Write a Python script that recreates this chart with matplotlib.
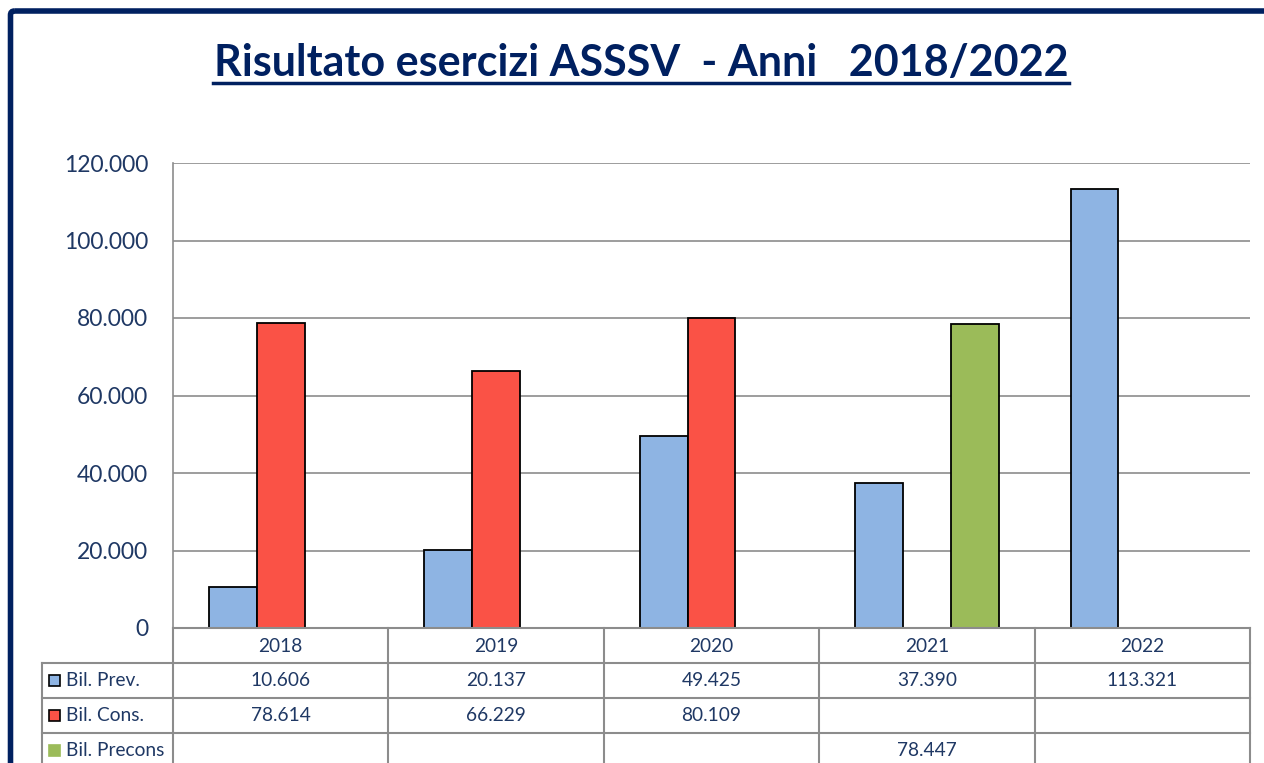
import numpy as np
import matplotlib
matplotlib.use("Agg")
import matplotlib.pyplot as plt
from matplotlib.patches import FancyBboxPatch, Rectangle

# dati
anni = ["2018", "2019", "2020", "2021", "2022"]
serie = ["Bil. Prev.", "Bil. Cons.", "Bil. Precons"]
bil_prev = [10606, 20137, 49425, 37390, 113321]
bil_cons = [78614, 66229, 80109, np.nan, np.nan]
bil_precons = [np.nan, np.nan, np.nan, 78447, np.nan]
colori = ["#8EB4E3", "#FA5246", "#9BBB59"]
yticks = [0, 20000, 40000, 60000, 80000, 100000, 120000]

NAVY = "#002060"
TXT = "#1F3864"
GRID = "#8C8C8C"
plt.rcParams["font.family"] = ["Lato", "DejaVu Sans"]

W, H = 1264, 763
fig = plt.figure(figsize=(W / 100, H / 100), dpi=100)

def fx(x): return x / W
def fy(y): return 1 - y / H

# area del grafico (pixel)
L, R, T, B = 173, 1250, 163, 628
ax = fig.add_axes([fx(L), fy(B), fx(R - L), (B - T) / H])

x = np.arange(len(anni))
bw = 0.222
valori = [bil_prev, bil_cons, bil_precons]
for i, v in enumerate(valori):
    ax.bar(x + (i - 1) * bw, v, bw, color=colori[i], edgecolor="black", linewidth=1.3, zorder=3)

ax.set_xlim(-0.5, len(anni) - 0.5)
ax.set_ylim(0, 120000)
ax.set_yticks(yticks)
ax.set_yticklabels([f"{t:,.0f}".replace(",", ".") for t in yticks], fontsize=16.5, color=TXT)
ax.tick_params(axis="y", length=0, pad=18)
ax.set_xticks([])
ax.yaxis.grid(True, color=GRID, linewidth=1.2, zorder=0)
for s in ["right", "bottom", "top"]:
    ax.spines[s].set_visible(False)
ax.spines["left"].set_color(GRID)
ax.spines["left"].set_linewidth(1.2)

# overlay in pixel per tabella, titolo e bordo
ov = fig.add_axes([0, 0, 1, 1], zorder=5)
ov.set_xlim(0, W)
ov.set_ylim(H, 0)
ov.axis("off")
ov.patch.set_alpha(0)

# bordo
ov.add_patch(FancyBboxPatch((10.5, 11), 1400, 900, boxstyle="round,pad=0,rounding_size=4",
                            fill=False, edgecolor=NAVY, linewidth=4))

# titolo
ov.text(641, 63, "Risultato esercizi ASSSV  - Anni   2018/2022", ha="center", va="center",
        fontsize=31, fontweight="bold", color=NAVY)
ov.plot([213, 1069], [83, 83], color=NAVY, linewidth=2.5)

# tabella dati
col_w = (R - L) / len(anni)
cols = [L + i * col_w for i in range(len(anni) + 1)]
rows = [B, 663, 698, 733, 768]
lw = 1.5
for cx in cols:
    ov.plot([cx, cx], [B, H + 5], color=GRID, linewidth=lw)
for ry in rows[:-1]:
    ov.plot([L, R], [ry, ry], color=GRID, linewidth=lw)
for ry in rows[1:-1]:
    ov.plot([42, L], [ry, ry], color=GRID, linewidth=lw)
ov.plot([42, 42], [rows[1], H + 5], color=GRID, linewidth=lw)

fs = 13.8
for j, a in enumerate(anni):
    ov.text(cols[j] + col_w / 2, (rows[0] + rows[1]) / 2 + 1, a, ha="center", va="center",
            fontsize=fs, color=TXT)
for i, (nome, v) in enumerate(zip(serie, valori)):
    yc = (rows[i + 1] + rows[i + 2]) / 2
    ec = "black" if i < 2 else colori[i]
    ov.add_patch(Rectangle((49, yc - 6), 11, 11, facecolor=colori[i], edgecolor=ec, linewidth=1.2))
    ov.text(66, yc, nome, ha="left", va="center", fontsize=fs, color=TXT)
    for j, val in enumerate(v):
        if not np.isnan(val):
            ov.text(cols[j] + col_w / 2, yc, f"{val:,.0f}".replace(",", "."), ha="center",
                    va="center", fontsize=fs, color=TXT)

fig.savefig("out.png", dpi=100)
